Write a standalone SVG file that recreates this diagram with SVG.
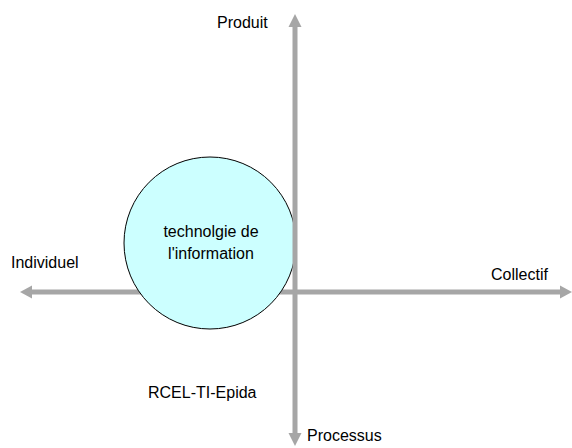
<svg xmlns="http://www.w3.org/2000/svg" width="572" height="448" viewBox="0 0 572 448">
  <style>
    .axis { stroke: #a6a6a6; stroke-width: 5; fill: none; }
    .head { fill: #a6a6a6; stroke: none; }
    .lbl { font-family: "Liberation Sans", Arial, sans-serif; font-size: 16px; fill: #000; }
  </style>
  <rect width="572" height="448" fill="#ffffff"/>
  <g id="connectors">
    <g id="axis-horizontal">
      <line class="axis" x1="30" y1="292" x2="561" y2="292"/>
      <polygon class="head" points="20,292 32,285.5 32,298.5"/>
      <polygon class="head" points="572,292 560,285.5 560,298.5"/>
    </g>
  </g>
  <g id="node-ti">
    <circle cx="210" cy="243" r="86" fill="#ccffff" stroke="#000" stroke-width="1"/>
    <text class="lbl" x="211" y="237" text-anchor="middle">technolgie de</text>
    <text class="lbl" x="211" y="259" text-anchor="middle">l'information</text>
  </g>
  <g id="connectors-vertical">
    <line class="axis" x1="295" y1="24" x2="295" y2="436"/>
    <polygon class="head" points="295,14 288.5,27 301.5,27"/>
    <polygon class="head" points="295,446 288.5,433 301.5,433"/>
  </g>
  <g id="label-produit"><text class="lbl" x="217" y="28">Produit</text></g>
  <g id="label-individuel"><text class="lbl" x="11" y="268">Individuel</text></g>
  <g id="label-collectif"><text class="lbl" x="491" y="280">Collectif</text></g>
  <g id="label-processus"><text class="lbl" x="307" y="441">Processus</text></g>
  <g id="label-rcel"><text class="lbl" x="148" y="398">RCEL-TI-Epida</text></g>
</svg>
